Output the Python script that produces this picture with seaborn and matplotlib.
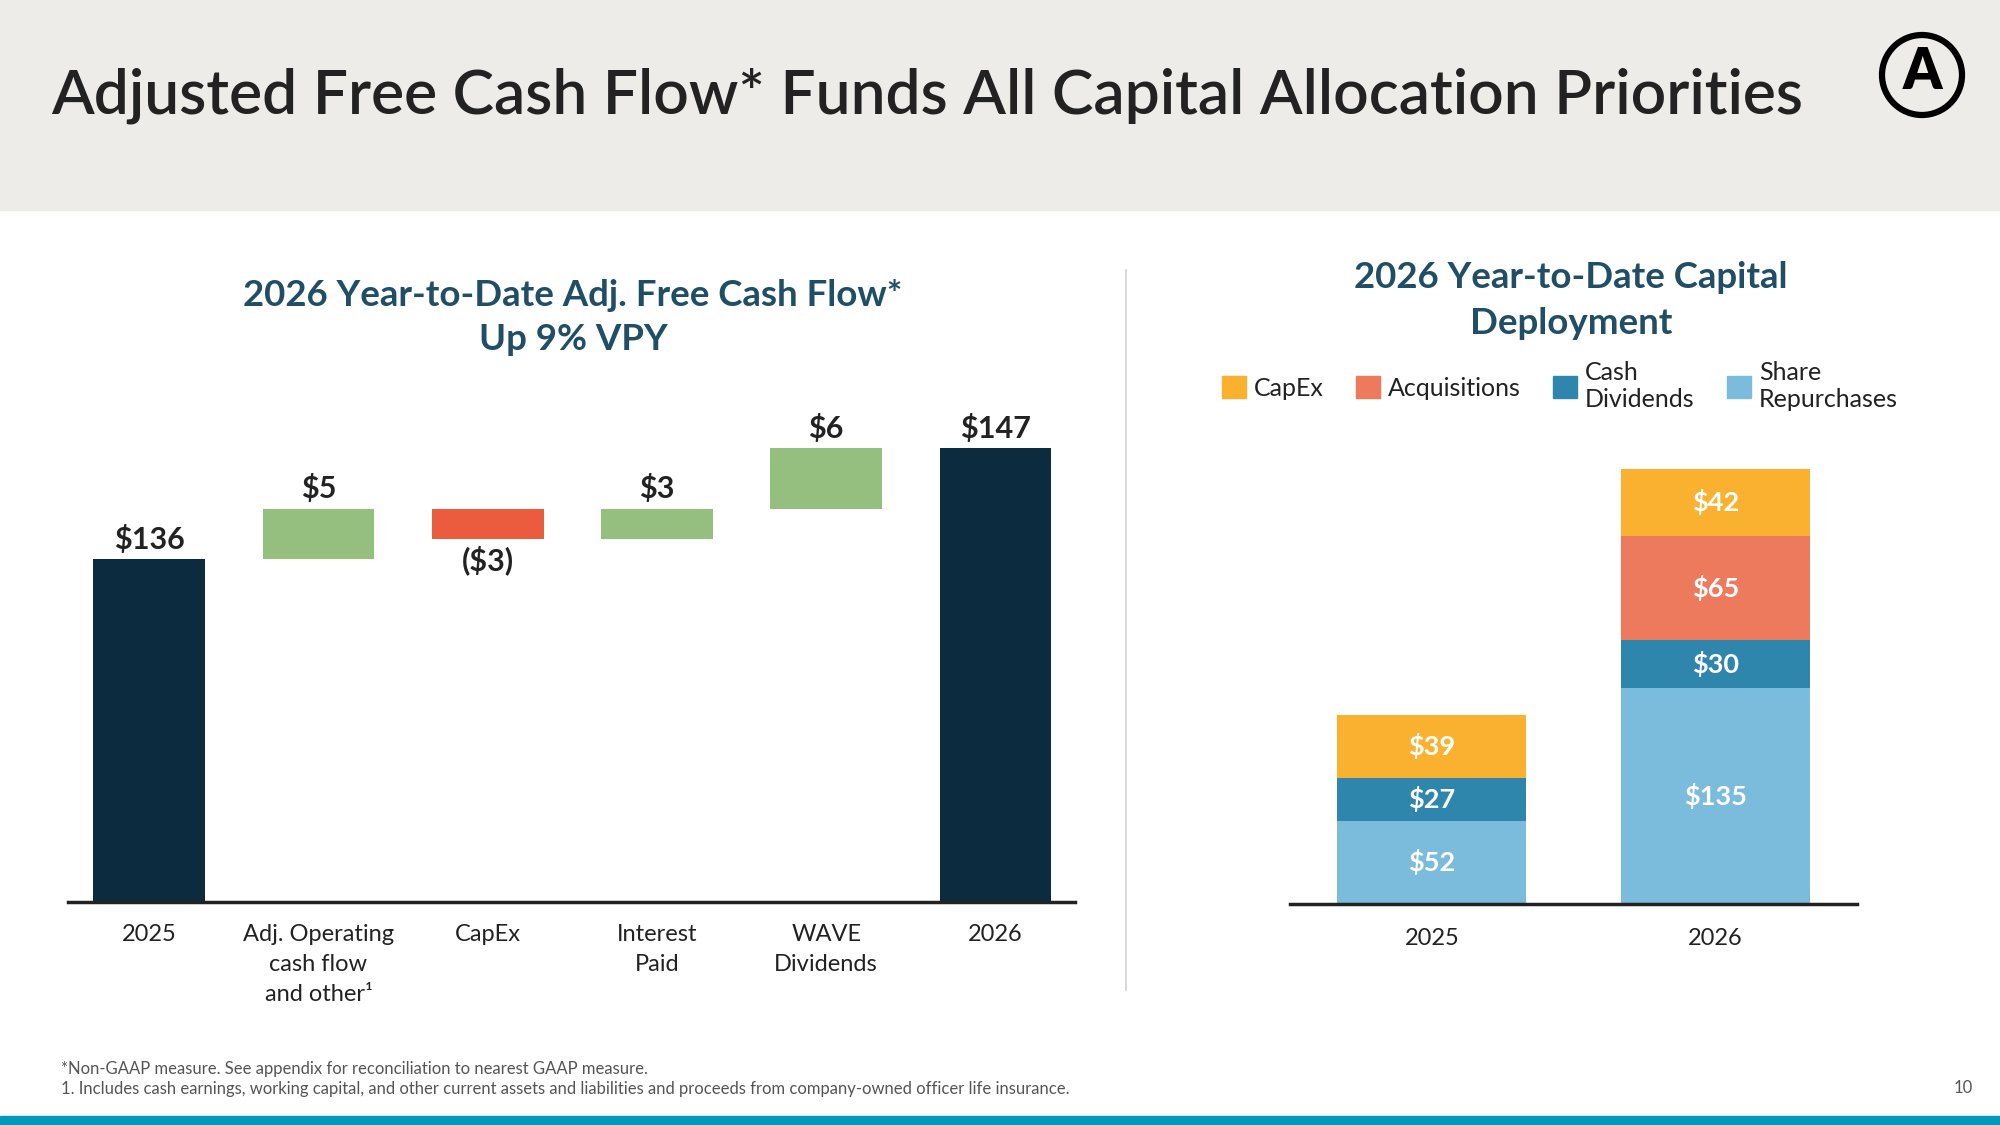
import matplotlib
matplotlib.use("Agg")
import matplotlib.pyplot as plt
import matplotlib.patches as mpatches
import numpy as np
import seaborn as sns

# waterfall: adjusted free cash flow bridge
steps = ["2025", "Adj. Operating\ncash flow\nand other\u00b9", "CapEx", "Interest\nPaid", "WAVE\nDividends", "2026"]
step_values = [136, 5, -3, 3, 6, 147]
step_labels = ["$136", "$5", "($3)", "$3", "$6", "$147"]

# stacked: capital deployment
years = ["2025", "2026"]
share_repurchases = [52, 135]
cash_dividends = [27, 30]
acquisitions = [0, 65]
capex = [39, 42]
series_names = ["CapEx", "Acquisitions", "Cash\nDividends", "Share\nRepurchases"]

C_TOTAL = "#0D2B3E"
C_UP = "#95BF7F"
C_DOWN = "#EB5B3E"
C_CAPEX = "#FBB130"
C_ACQ = "#EE7A5E"
C_DIV = "#2E86AD"
C_SHR = "#7BBBDB"
TITLE_C = "#1F4E66"
TEXT_C = "#222222"

sns.set_theme(style="white")
plt.rcParams['font.family'] = ['Lato', 'DejaVu Sans']

fig = plt.figure(figsize=(20, 11.25), dpi=100)
W, H = 2000, 1125

def fx(px):
    return px / W

def fy(py):
    return 1 - py / H

# header band
fig.patches.append(mpatches.Rectangle((0, fy(210)), 1, 210 / H, transform=fig.transFigure,
                                      color="#EDECE9", zorder=0))
fig.text(fx(51), fy(96), "Adjusted Free Cash Flow* Funds All Capital Allocation Priorities",
         fontsize=44.8, color=TEXT_C, va="center", ha="left", fontweight="semibold")
fig.patches.append(mpatches.Ellipse((fx(1922), fy(75)), 80 / W, 80 / H, transform=fig.transFigure,
                                    fill=False, edgecolor="black", linewidth=4.5))
fig.text(fx(1922), fy(72), "A", fontsize=40, fontweight="heavy", ha="center", va="center", color="black")

# bottom stripe and divider
fig.patches.append(mpatches.Rectangle((0, 0), 1, 9 / H, transform=fig.transFigure, color="#0099BB"))
fig.lines.append(plt.Line2D([fx(1126), fx(1126)], [fy(270), fy(990)], transform=fig.transFigure,
                            color="#D9D9D9", linewidth=1.5))

# ---- waterfall ----
bottoms = []
heights = []
running = 0
for i, v in enumerate(step_values):
    if i == 0 or i == len(step_values) - 1:
        bottoms.append(0)
        heights.append(v)
        running = v
    else:
        if v >= 0:
            bottoms.append(running)
            heights.append(v)
        else:
            bottoms.append(running + v)
            heights.append(-v)
        running += v
colors = [C_TOTAL if i in (0, len(step_values) - 1) else (C_UP if v > 0 else C_DOWN)
          for i, v in enumerate(step_values)]

ax1 = fig.add_axes([fx(68), 1 - 902 / H, fx(1075) - fx(68), 585 / H])
for s, b, h, c in zip(steps, bottoms, heights, colors):
    sns.barplot(x=[s], y=[h], order=steps, bottom=b, color=c, saturation=1,
                width=0.66, errorbar=None, ax=ax1, linewidth=0)
ax1.set_ylim(102, 160)
ax1.set_xlim(-0.48, 5.47)
for i, (b, h, v, lab) in enumerate(zip(bottoms, heights, step_values, step_labels)):
    if v >= 0:
        ax1.text(i, b + h + 0.55, lab, ha="center", va="bottom", fontsize=22, fontweight="bold", color=TEXT_C)
    else:
        ax1.text(i, b - 0.6, lab, ha="center", va="top", fontsize=22, fontweight="bold", color=TEXT_C)
ax1.set_xlabel("")
ax1.set_ylabel("")
ax1.set_yticks([])
sns.despine(ax=ax1, left=True)
ax1.spines["bottom"].set_color("#222222")
ax1.spines["bottom"].set_linewidth(2.5)
ax1.tick_params(axis="x", length=0, pad=16, labelsize=17, labelcolor=TEXT_C)
for t in ax1.get_xticklabels():
    t.set_linespacing(1.52)
fig.text(fx(573), fy(295), "2026 Year-to-Date Adj. Free Cash Flow*", fontsize=26.4, fontweight="bold",
         color=TITLE_C, ha="center", va="center")
fig.text(fx(573), fy(339), "Up 9% VPY", fontsize=26.4, fontweight="bold",
         color=TITLE_C, ha="center", va="center")

# ---- stacked deployment ----
ax2 = fig.add_axes([fx(1290), 1 - 904 / H, fx(1857) - fx(1290), 480 / H])
layers = [(share_repurchases, C_SHR), (cash_dividends, C_DIV), (acquisitions, C_ACQ), (capex, C_CAPEX)]
base = np.zeros(len(years))
for vals, c in layers:
    for i, (yr, v) in enumerate(zip(years, vals)):
        sns.barplot(x=[yr], y=[v], order=years, bottom=base[i], color=c, saturation=1,
                    width=0.668, errorbar=None, ax=ax2, linewidth=0)
        if v > 0:
            ax2.text(i, base[i] + v / 2, f"${v}", ha="center", va="center", fontsize=19.5,
                     fontweight="bold", color="white")
    base = base + np.array(vals)
ax2.set_ylim(0, 300)
ax2.set_xlim(-0.5, 1.5)
ax2.set_xlabel("")
ax2.set_ylabel("")
ax2.set_yticks([])
sns.despine(ax=ax2, left=True)
ax2.spines["bottom"].set_color("#222222")
ax2.spines["bottom"].set_linewidth(2.5)
ax2.tick_params(axis="x", length=0, pad=17, labelsize=17, labelcolor=TEXT_C)
fig.text(fx(1571), fy(278), "2026 Year-to-Date Capital", fontsize=26.4, fontweight="bold",
         color=TITLE_C, ha="center", va="center")
fig.text(fx(1571), fy(323), "Deployment", fontsize=26.4, fontweight="bold",
         color=TITLE_C, ha="center", va="center")

legend_colors = [C_CAPEX, C_ACQ, C_DIV, C_SHR]
handles = [mpatches.Patch(color=c, label=n) for n, c in zip(series_names, legend_colors)]
fig.legend(handles=handles, loc="center left", bbox_to_anchor=(fx(1222), fy(386)), ncol=4,
           frameon=False, fontsize=18, handlelength=0.95, handleheight=0.95, handletextpad=0.32,
           columnspacing=1.3, labelspacing=0.1, labelcolor=TEXT_C, borderaxespad=0, borderpad=0)

# footnotes
fig.text(fx(61), fy(1069), "*Non-GAAP measure. See appendix for reconciliation to nearest GAAP measure.",
         fontsize=12, color="#555555", va="center")
fig.text(fx(61), fy(1089), "1. Includes cash earnings, working capital, and other current assets and liabilities "
         "and proceeds from company-owned officer life insurance.", fontsize=12, color="#555555", va="center")
fig.text(fx(1963), fy(1088), "10", fontsize=12, color="#555555", va="center", ha="center")

fig.savefig("out.png", dpi=100, facecolor="white")
